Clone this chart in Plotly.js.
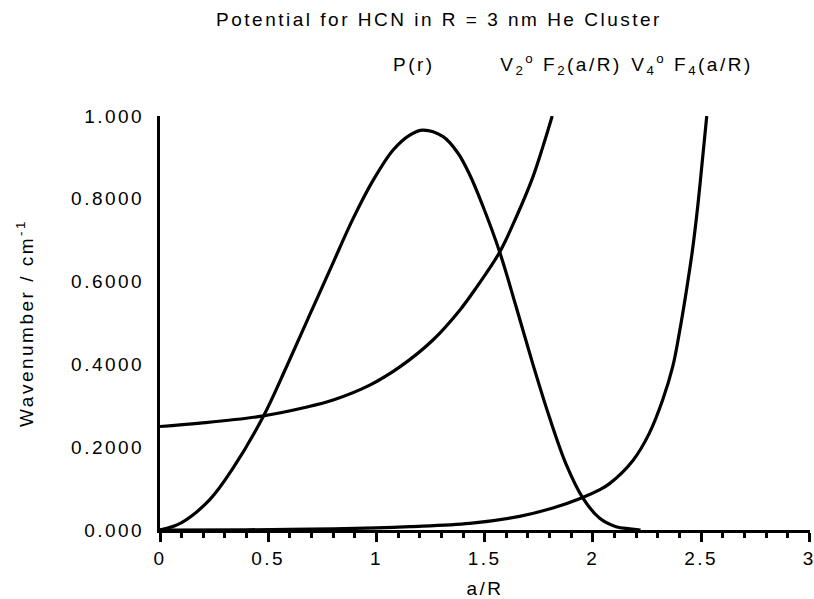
<!DOCTYPE html>
<html>
<head>
<meta charset="utf-8">
<script src="https://cdn.plot.ly/plotly-3.0.1.min.js"></script>
<style>
  html, body { margin: 0; padding: 0; background: #fff; }
  #chart { width: 814px; height: 599px; }
  #chart svg text { letter-spacing: 2.5px; }
</style>
</head>
<body>
<div id="chart"></div>
<script>
// P(r)
const pX = [0, 0.1, 0.231, 0.338, 0.477, 0.585, 0.692, 0.800, 0.892, 0.985, 1.077, 1.154, 1.215, 1.308, 1.377, 1.431, 1.492, 1.569, 1.646, 1.723, 1.80, 1.877, 1.954, 2.03, 2.107, 2.17, 2.22];
const pY = [0, 0.018, 0.074, 0.150, 0.274, 0.395, 0.520, 0.646, 0.752, 0.845, 0.918, 0.954, 0.966, 0.950, 0.910, 0.858, 0.782, 0.672, 0.538, 0.400, 0.271, 0.158, 0.077, 0.029, 0.008, 0.003, 0];
// V2° F2(a/R)
const f2X = [0, 0.185, 0.47, 0.669, 0.800, 0.969, 1.108, 1.261, 1.385, 1.462, 1.569, 1.646, 1.723, 1.769, 1.812];
const f2Y = [0.250, 0.258, 0.275, 0.296, 0.314, 0.350, 0.394, 0.459, 0.531, 0.586, 0.671, 0.756, 0.853, 0.926, 1.0];
// V4° F4(a/R)
const f4X = [0, 0.4, 0.7, 1.0, 1.154, 1.431, 1.661, 1.815, 1.95, 2.03, 2.077, 2.185, 2.261, 2.323, 2.369, 2.40, 2.431, 2.461, 2.485, 2.508, 2.526];
const f4Y = [0, 0.0005, 0.002, 0.005, 0.008, 0.016, 0.033, 0.053, 0.078, 0.097, 0.112, 0.168, 0.234, 0.315, 0.395, 0.478, 0.575, 0.68, 0.785, 0.905, 1.0];

const xTickVals = [0, 0.5, 1, 1.5, 2, 2.5, 3];
const xTickText = ['0', '0.5', '1', '1.5', '2', '2.5', '3'];
const yTickVals = [0, 0.2, 0.4, 0.6, 0.8, 1.0];
const yTickText = ['0.000', '0.2000', '0.4000', '0.6000', '0.8000', '1.000'];

const seriesNames = ['P(r)', 'V<sub>2</sub><sup>o</sup> F<sub>2</sub>(a/R)', 'V<sub>4</sub><sup>o</sup> F<sub>4</sub>(a/R)'];

const FONT = 'Liberation Sans, Arial, Helvetica, sans-serif';
const SZ = 19;
const lineStyle = {color: '#000', width: 3.2, shape: 'spline', smoothing: 1};

const traces = [
  {x: pX, y: pY, mode: 'lines', line: lineStyle, cliponaxis: false, name: seriesNames[0]},
  {x: f2X, y: f2Y, mode: 'lines', line: lineStyle, cliponaxis: false, name: seriesNames[1]},
  {x: f4X, y: f4Y, mode: 'lines', line: lineStyle, cliponaxis: false, name: seriesNames[2]}
];

const layout = {
  width: 814, height: 599,
  margin: {l: 160, r: 4, t: 116, b: 69},
  paper_bgcolor: '#fff', plot_bgcolor: '#fff',
  showlegend: false,
  font: {family: FONT, size: SZ, color: '#000'},
  title: {
    text: 'Potential for HCN in R = 3 nm He Cluster',
    font: {family: FONT, size: SZ, color: '#000'},
    xref: 'container', x: 439 / 814, xanchor: 'center',
    yref: 'container', y: 1 - 19 / 599, yanchor: 'middle'
  },
  xaxis: {
    range: [0, 3.003], showgrid: false, zeroline: false,
    showline: true, linecolor: '#000', linewidth: 3,
    tickmode: 'array', tickvals: xTickVals, ticktext: xTickText,
    ticklabeloverflow: 'allow',
    ticks: 'outside', ticklen: 9, tickwidth: 3, tickcolor: '#000',
    minor: {dtick: 0.1, ticks: 'outside', ticklen: 5, tickwidth: 3, tickcolor: '#000', showgrid: false},
    tickfont: {family: FONT, size: SZ, color: '#000'},
    title: {text: 'a/R', font: {family: FONT, size: SZ, color: '#000'}, standoff: 18},
    fixedrange: true
  },
  yaxis: {
    range: [0, 1], showgrid: false, zeroline: false,
    showline: true, linecolor: '#000', linewidth: 3,
    tickmode: 'array', tickvals: yTickVals, ticktext: yTickText,
    ticks: '', ticklabelstandoff: 9,
    tickfont: {family: FONT, size: SZ, color: '#000'},
    title: {text: 'Wavenumber / cm<sup>-1</sup>', font: {family: FONT, size: SZ, color: '#000'}, standoff: 48},
    fixedrange: true
  },
  annotations: [
    {text: seriesNames[0], xref: 'paper', yref: 'paper', x: (414 - 160) / 650, y: (530 - 65) / 414, xanchor: 'center', yanchor: 'middle', showarrow: false, font: {family: FONT, size: SZ, color: '#000'}},
    {text: seriesNames[1], xref: 'paper', yref: 'paper', x: (561 - 160) / 650, y: (530 - 65) / 414, xanchor: 'center', yanchor: 'middle', showarrow: false, font: {family: FONT, size: SZ, color: '#000'}},
    {text: seriesNames[2], xref: 'paper', yref: 'paper', x: (692 - 160) / 650, y: (530 - 65) / 414, xanchor: 'center', yanchor: 'middle', showarrow: false, font: {family: FONT, size: SZ, color: '#000'}}
  ]
};

Plotly.newPlot('chart', traces, layout, {staticPlot: true, displayModeBar: false});
</script>
</body>
</html>
